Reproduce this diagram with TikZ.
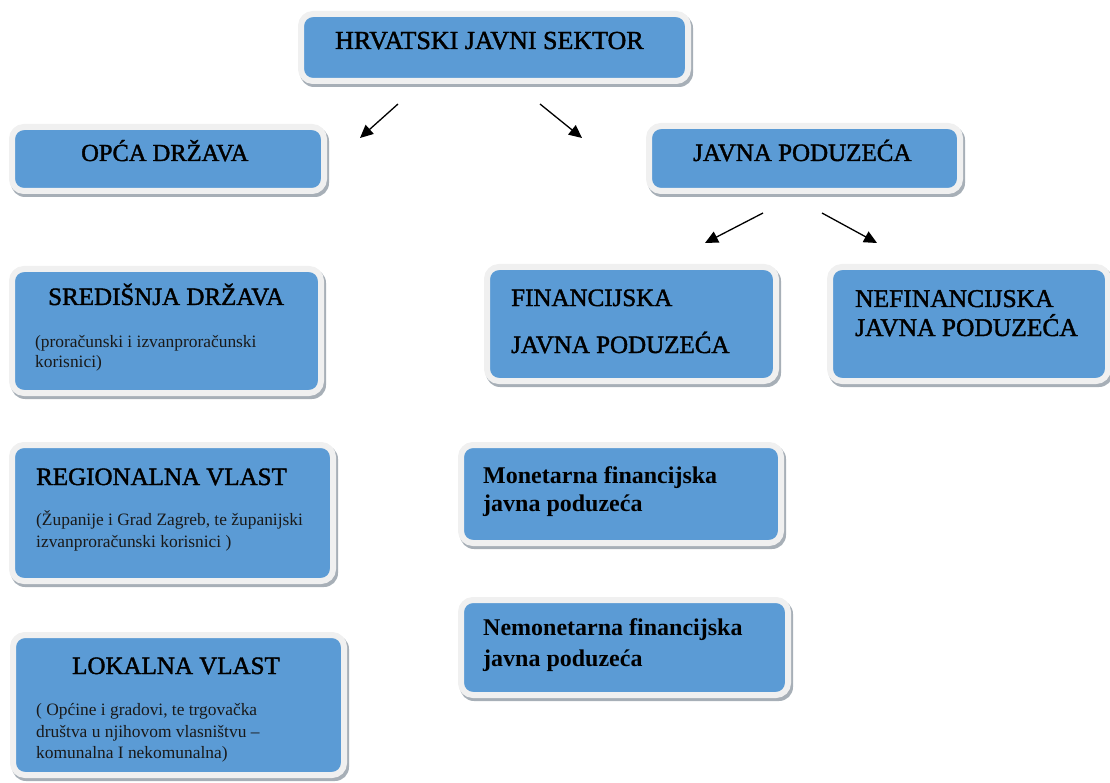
\documentclass[tikz,border=0pt]{standalone}
\usepackage{fontspec}
\setmainfont{Liberation Serif}
\newfontfamily\ttlfont[FakeBold=1.6]{Liberation Serif}
\usetikzlibrary{arrows.meta}
\definecolor{boxblue}{HTML}{5B9BD5}
\definecolor{framec}{HTML}{F0F0F0}
\definecolor{shadowc}{HTML}{A7AFB7}
\tikzset{
  pbox/.style={draw=framec, line width=6pt, fill=boxblue, rounded corners=12pt, inner sep=0pt},
  ttl/.style={anchor=base west, inner sep=0pt, font=\ttlfont\fontsize{25}{30}\selectfont},
  sub/.style={anchor=base west, inner sep=0pt, text=black!90, font=\fontsize{17.4}{21}\selectfont},
  bld/.style={anchor=base west, inner sep=0pt, font=\fontsize{24}{28}\selectfont\bfseries},
  arr/.style={line width=1.3pt, -{Triangle[length=13pt,width=12pt]}}
}
% name, x1, y1, x2, y2 of the blue face
\newcommand{\pbx}[5]{%
  \fill[shadowc, rounded corners=14pt] ({#2-6+2},{#3-6+3}) rectangle ({#4+6+2},{#5+6+3});
  \node[pbox, minimum width={#4-#2+6}, minimum height={#5-#3+6}] (#1) at ({(#2+#4)/2},{(#3+#5)/2}) {};
}
\begin{document}
\begin{tikzpicture}[x=1pt,y=-1pt]
\useasboundingbox (0,0) rectangle (1110,783);
\clip (0,0) rectangle (1110,783);

\pbx{top}{304}{17}{685}{78}
\pbx{opca}{15}{130}{321}{188}
\pbx{javna}{652}{129}{957}{188}
\pbx{sred}{15}{272}{318}{390}
\pbx{fin}{490}{270}{773}{378}
\pbx{nefin}{833}{270}{1105}{378}
\pbx{reg}{15}{448}{330}{578}
\pbx{lok}{16}{638}{341}{772}
\pbx{mon}{464}{448}{778}{540}
\pbx{nemon}{464}{603}{785}{692}

\node[ttl, font=\ttlfont\fontsize{26}{30}\selectfont] (tTop) at (335,49) {HRVATSKI JAVNI SEKTOR};
\node[ttl, font=\ttlfont\fontsize{24.5}{30}\selectfont] (tOpca) at (81,161) {OPĆA DRŽAVA};
\node[ttl] (tJavna) at (693,161) {JAVNA PODUZEĆA};

\node[ttl] (tSred) at (48,305) {SREDIŠNJA DRŽAVA};
\node[sub] (sSred1) at (35,347) {(proračunski i izvanproračunski};
\node[sub] (sSred2) at (35,367) {korisnici)};

\node[ttl] (tReg) at (36,485) {REGIONALNA VLAST};
\node[sub] (sReg1) at (36,525.5) {(Županije i Grad Zagreb, te županijski};
\node[sub] (sReg2) at (36,547.5) {izvanproračunski korisnici )};

\node[ttl] (tLok) at (72,674) {LOKALNA VLAST};
\node[sub] (sLok1) at (36,715.5) {( Općine i gradovi, te trgovačka};
\node[sub] (sLok2) at (36,737.5) {društva u njihovom vlasništvu –};
\node[sub] (sLok3) at (36,758.5) {komunalna I nekomunalna)};

\node[ttl] (tFin1) at (511,306) {FINANCIJSKA};
\node[ttl] (tFin2) at (511,353) {JAVNA PODUZEĆA};

\node[ttl, font=\ttlfont\fontsize{25.5}{30}\selectfont] (tNef1) at (855,307) {NEFINANCIJSKA};
\node[ttl, font=\ttlfont\fontsize{25.5}{30}\selectfont] (tNef2) at (855,336) {JAVNA PODUZEĆA};

\node[bld] (tMon1) at (483,483) {Monetarna financijska};
\node[bld] (tMon2) at (483,511) {javna poduzeća};

\node[bld] (tNem1) at (483,635) {Nemonetarna financijska};
\node[bld] (tNem2) at (483,666) {javna poduzeća};

\coordinate (a1s) at (398,104); \coordinate (a1e) at (360,138);
\coordinate (a2s) at (540,104); \coordinate (a2e) at (582,138);
\coordinate (a3s) at (763,213); \coordinate (a3e) at (705,243);
\coordinate (a4s) at (822,213); \coordinate (a4e) at (877,243);
\draw[arr] (a1s) -- (a1e);
\draw[arr] (a2s) -- (a2e);
\draw[arr] (a3s) -- (a3e);
\draw[arr] (a4s) -- (a4e);
\end{tikzpicture}
\end{document}
